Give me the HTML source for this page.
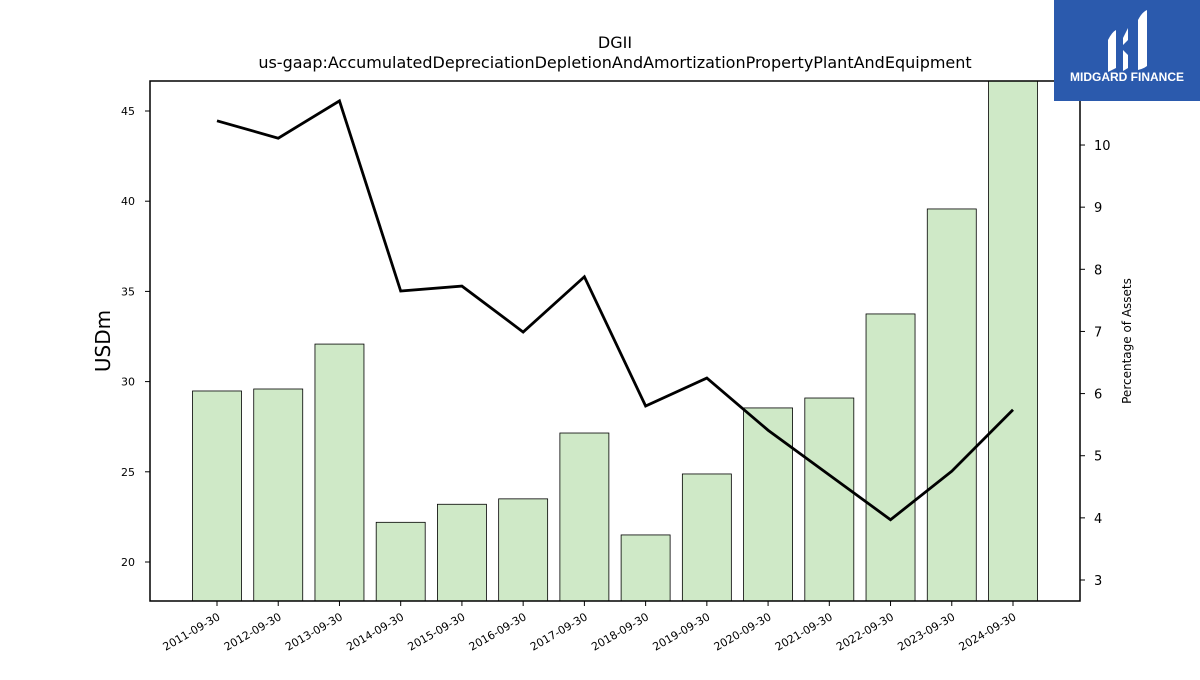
<!DOCTYPE html>
<html><head><meta charset="utf-8"><style>
body{margin:0;background:#fff;font-family:"Liberation Sans","DejaVu Sans",sans-serif}
</style></head><body>
<svg id="c" width="1200" height="675" xmlns="http://www.w3.org/2000/svg" font-family="DejaVu Sans, Liberation Sans, sans-serif">
<text x="615" y="48" text-anchor="middle" font-size="16">DGII</text>
<text x="615" y="68" text-anchor="middle" font-size="16">us-gaap:AccumulatedDepreciationDepletionAndAmortizationPropertyPlantAndEquipment</text>
<g id="bars"></g><g id="axes"></g>
<text transform="translate(110,341) rotate(-90)" text-anchor="middle" font-size="20">USDm</text>
<text transform="translate(1131,341) rotate(-90)" text-anchor="middle" font-size="12">Percentage of Assets</text>
<g>
<rect x="1054" y="0" width="146" height="101" fill="#2b5aad"/>
<path d="M1108,40 q4,-8 8,-10 v38 q-4,2 -8,4z M1123,38 l5,-10 v12 l-5,5z M1123,50 l5,5 v13 l-5,3z M1138,20 q4,-8 9,-10 v56 q-4,3 -9,4z" fill="#fff"/>
<text x="1127" y="81" text-anchor="middle" font-size="12" font-weight="bold" fill="#fff" font-family="Liberation Sans, sans-serif">MIDGARD FINANCE</text>
</g>
</svg>
<script>
const categories=["2011-09-30","2012-09-30","2013-09-30","2014-09-30","2015-09-30","2016-09-30","2017-09-30","2018-09-30","2019-09-30","2020-09-30","2021-09-30","2022-09-30","2023-09-30","2024-09-30"];
const barValues=[29.48,29.59,32.08,22.2,23.2,23.5,27.15,21.5,24.88,28.54,29.09,33.75,39.57,47];
const pctValues=[10.39,10.11,10.71,7.65,7.73,6.99,7.88,5.80,6.25,5.41,4.69,3.97,4.75,5.74];
const leftTicks=[20,25,30,35,40,45];
const rightTicks=[3,4,5,6,7,8,9,10];
const NS="http://www.w3.org/2000/svg";
const L=150,R=1080,T=81,B=601;
const yL=v=>562-(v-20)*18.04;
const yR=v=>580-(v-3)*62.14;
const xC=i=>217+i*((1013-217)/13);
function mk(t,a,p){const e=document.createElementNS(NS,t);for(const k in a)e.setAttribute(k,a[k]);p.appendChild(e);return e;}
const bars=document.getElementById('bars'),axes=document.getElementById('axes');
bars.innerHTML='';
const clip=mk('clipPath',{id:'pc'},bars);mk('rect',{x:L,y:T,width:R-L,height:B-T},clip);
const bg=mk('g',{'clip-path':'url(#pc)'},bars);
barValues.forEach((v,i)=>{const y=yL(v);const r=mk('rect',{x:xC(i)-24.5,y:y,width:49,height:B-y,fill:'#cfe9c7',stroke:'#000','stroke-width':0.8},bg);

});
const pl=mk('polyline',{points:pctValues.map((v,i)=>xC(i)+','+yR(v)).join(' '),fill:'none',stroke:'#000','stroke-width':2.8},bg);


mk('rect',{x:L,y:T,width:R-L,height:B-T,fill:'none',stroke:'#000','stroke-width':1.5},axes);
leftTicks.forEach(t=>{const y=yL(t);mk('line',{x1:L-5,x2:L,y1:y,y2:y,stroke:'#000'},axes);const tx=mk('text',{x:L-15,y:y+4,'text-anchor':'end','font-size':11},axes);tx.textContent=t;

});
rightTicks.forEach(t=>{const y=yR(t);mk('line',{x1:R,x2:R+5,y1:y,y2:y,stroke:'#000'},axes);const tx=mk('text',{x:R+14,y:y+5,'font-size':13},axes);tx.textContent=t;

});
categories.forEach((c,i)=>{const x=xC(i);mk('line',{x1:x,x2:x,y1:B,y2:B+5,stroke:'#000'},axes);const tx=mk('text',{x:x+4,y:B+18,'text-anchor':'end','font-size':11,transform:`rotate(-30 ${x+4} ${B+18})`},axes);tx.textContent=c;

});
</script>
</body></html>
